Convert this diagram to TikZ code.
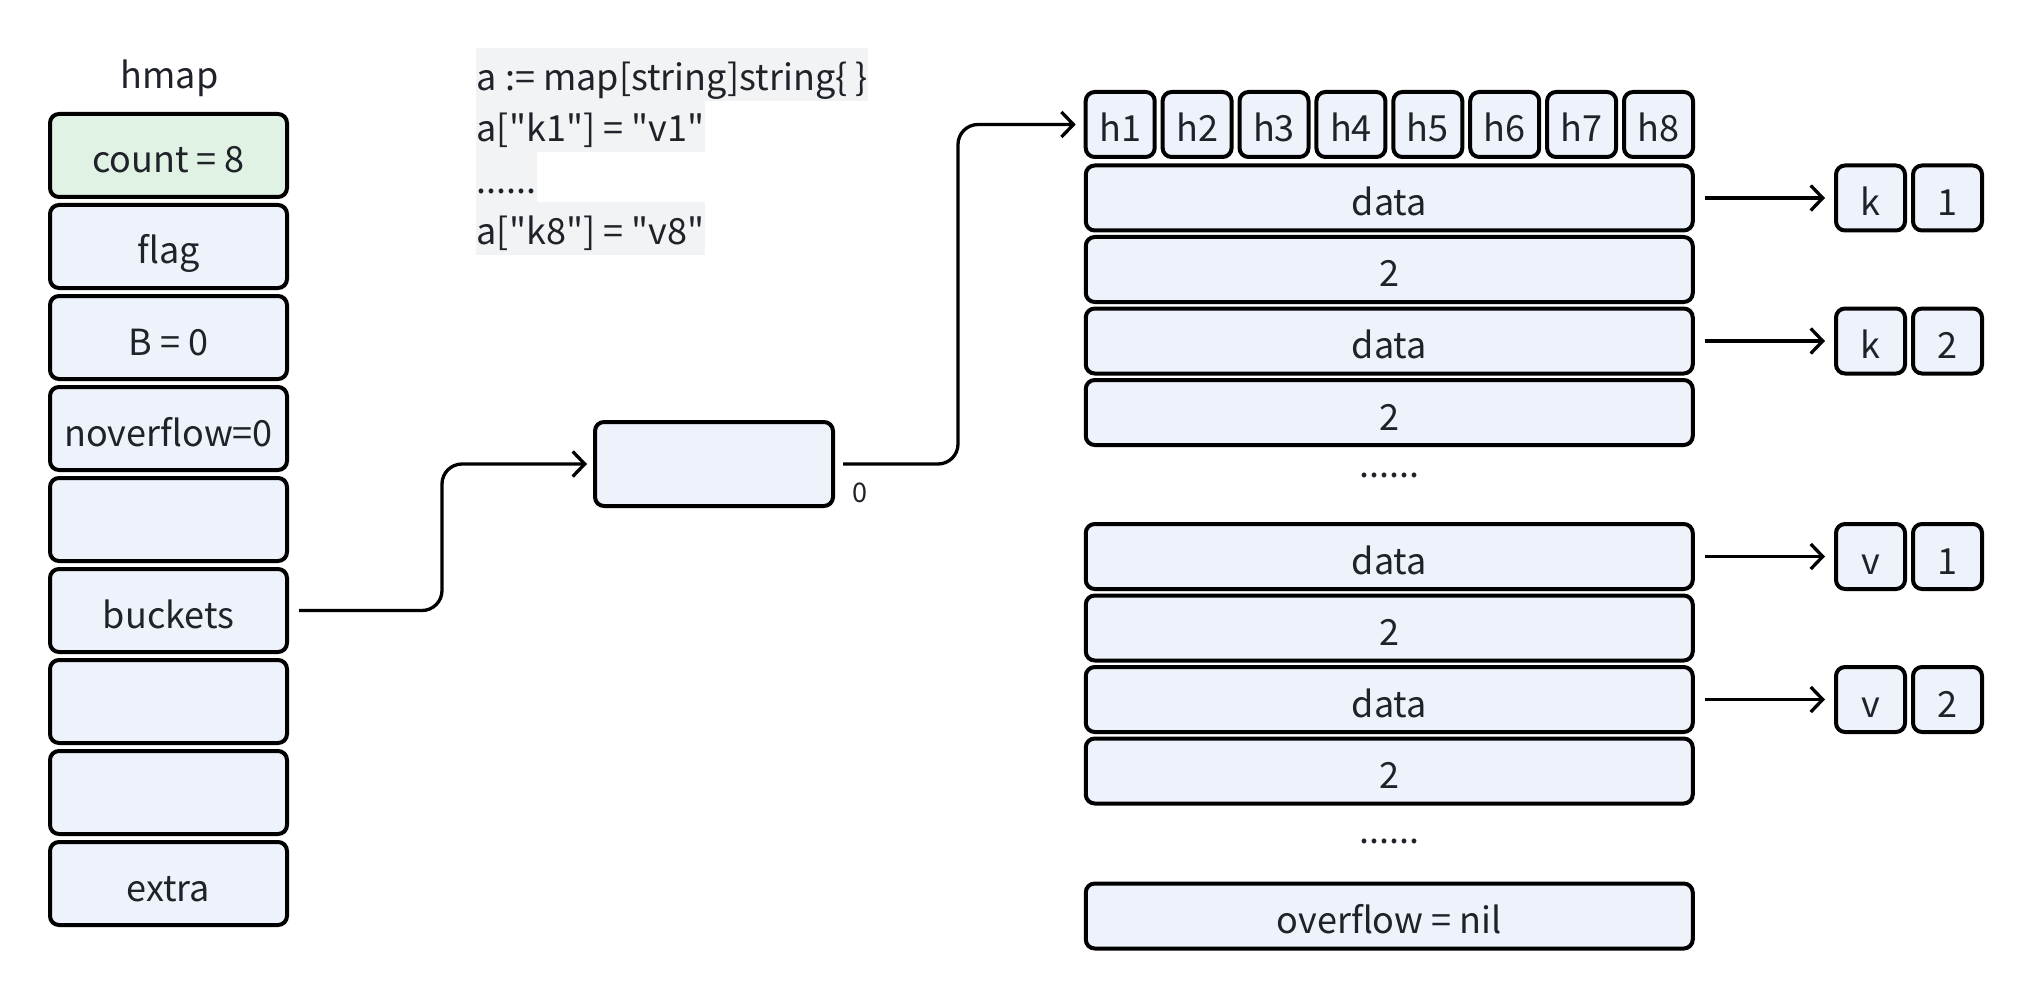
\documentclass[tikz,border=0pt]{standalone}
\usepackage{fontspec}
\setmainfont{Noto Sans CJK SC}
\newfontfamily\codefont{Noto Sans CJK SC}
\usetikzlibrary{arrows.meta}
\definecolor{cellfill}{HTML}{EEF2FA}
\definecolor{countfill}{HTML}{DFF2E3}
\definecolor{txt}{HTML}{1F2329}
\definecolor{codebg}{HTML}{F2F3F5}
\tikzset{
  cell/.style={draw=black, line width=4pt, rounded corners=9pt, fill=cellfill,
    text=txt, inner sep=0pt, font=\fontsize{36}{43}\selectfont,
    text height=42pt, text depth=7pt},
  lcell/.style={cell, minimum width=237pt, minimum height=83pt},
  hcell/.style={cell, minimum width=69pt, minimum height=65pt},
  rowcell/.style={cell, minimum width=607pt, minimum height=65pt},
  kvcell/.style={cell, minimum width=69pt, minimum height=65pt},
  codeline/.style={anchor=base west, fill=codebg, inner xsep=0.5pt, inner ysep=0pt,
    text height=43pt, text depth=10pt, text=txt, font=\codefont\fontsize{36}{43}\selectfont},
  plain/.style={text=txt, inner sep=0pt, font=\fontsize{36}{43}\selectfont},
  conn/.style={line width=3.3pt, draw=black, -{Straight Barb[length=12pt,width=25pt]}},
}
\begin{document}
\begin{tikzpicture}[x=1pt,y=-1pt]
\path[use as bounding box] (0,0) rectangle (2036,1000);

% hmap column
\node[plain, anchor=base] (title) at (169.5,89) {hmap};
\node[lcell, fill=countfill] (count) at (168.5,155.5) {count = 8};
\node[lcell] (flag) at (168.5,246.5) {flag};
\node[lcell] (bb) at (168.5,337.5) {B = 0};
\node[lcell] (nover) at (168.5,428.5) {noverflow=0};
\node[lcell] (e1) at (168.5,519.5) {};
\node[lcell] (buckets) at (168.5,610.5) {buckets};
\node[lcell] (e2) at (168.5,701.5) {};
\node[lcell] (e3) at (168.5,792.5) {};
\node[lcell] (extra) at (168.5,883.5) {extra};

% code
\node[codeline] (c1) at (476,91) {a := map[string]string\{ \}};
\node[codeline] (c2) at (476,142) {a["k1"] = "v1"};
\node[codeline] (c3) at (476,194) {......};
\node[codeline] (c4) at (476,245) {a["k8"] = "v8"};

% middle box
\node[cell, minimum width=238pt, minimum height=84pt] (mid) at (714,464) {};
\node[plain, anchor=base, font=\fontsize{27}{32}\selectfont] (zero) at (860,502) {0};

% tophash
\node[hcell] (h1) at (1120.2,124.5) {h1};
\node[hcell] (h2) at (1197.1,124.5) {h2};
\node[hcell] (h3) at (1274.0,124.5) {h3};
\node[hcell] (h4) at (1350.9,124.5) {h4};
\node[hcell] (h5) at (1427.8,124.5) {h5};
\node[hcell] (h6) at (1504.7,124.5) {h6};
\node[hcell] (h7) at (1581.6,124.5) {h7};
\node[hcell] (h8) at (1658.5,124.5) {h8};

% rows
\node[rowcell] (d1) at (1389.25,198) {data};
\node[rowcell] (r1) at (1389.25,269.5) {2};
\node[rowcell] (d2) at (1389.25,341) {data};
\node[rowcell] (r2) at (1389.25,412.5) {2};
\node[plain, anchor=base] (dots1) at (1389.25,477) {......};
\node[rowcell] (d3) at (1389.25,556.5) {data};
\node[rowcell] (r3) at (1389.25,628) {2};
\node[rowcell] (d4) at (1389.25,699.5) {data};
\node[rowcell] (r4) at (1389.25,771) {2};
\node[plain, anchor=base] (dots2) at (1389.25,843) {......};
\node[rowcell] (ovf) at (1389.25,916) {overflow = nil};

% kv
\node[kvcell] (k1) at (1870.5,198) {k};
\node[kvcell] (k1v) at (1947.5,198) {1};
\node[kvcell] (k2) at (1870.5,341) {k};
\node[kvcell] (k2v) at (1947.5,341) {2};
\node[kvcell] (v1) at (1870.5,556.5) {v};
\node[kvcell] (v1v) at (1947.5,556.5) {1};
\node[kvcell] (v2) at (1870.5,699.5) {v};
\node[kvcell] (v2v) at (1947.5,699.5) {2};

% connectors
\draw[conn, rounded corners=20pt] ([xshift=10pt]buckets.east) -- ++(143,0) |- ([xshift=-6pt]mid.west);
\draw[conn, rounded corners=20pt] ([xshift=8pt]mid.east) -- ++(115,0) |- ([xshift=-8pt]h1.west);
\draw[conn] ([xshift=10pt]d1.east) -- ([xshift=-9pt]k1.west);
\draw[conn] ([xshift=10pt]d2.east) -- ([xshift=-9pt]k2.west);
\draw[conn] ([xshift=10pt]d3.east) -- ([xshift=-9pt]v1.west);
\draw[conn] ([xshift=10pt]d4.east) -- ([xshift=-9pt]v2.west);
\end{tikzpicture}
\end{document}
